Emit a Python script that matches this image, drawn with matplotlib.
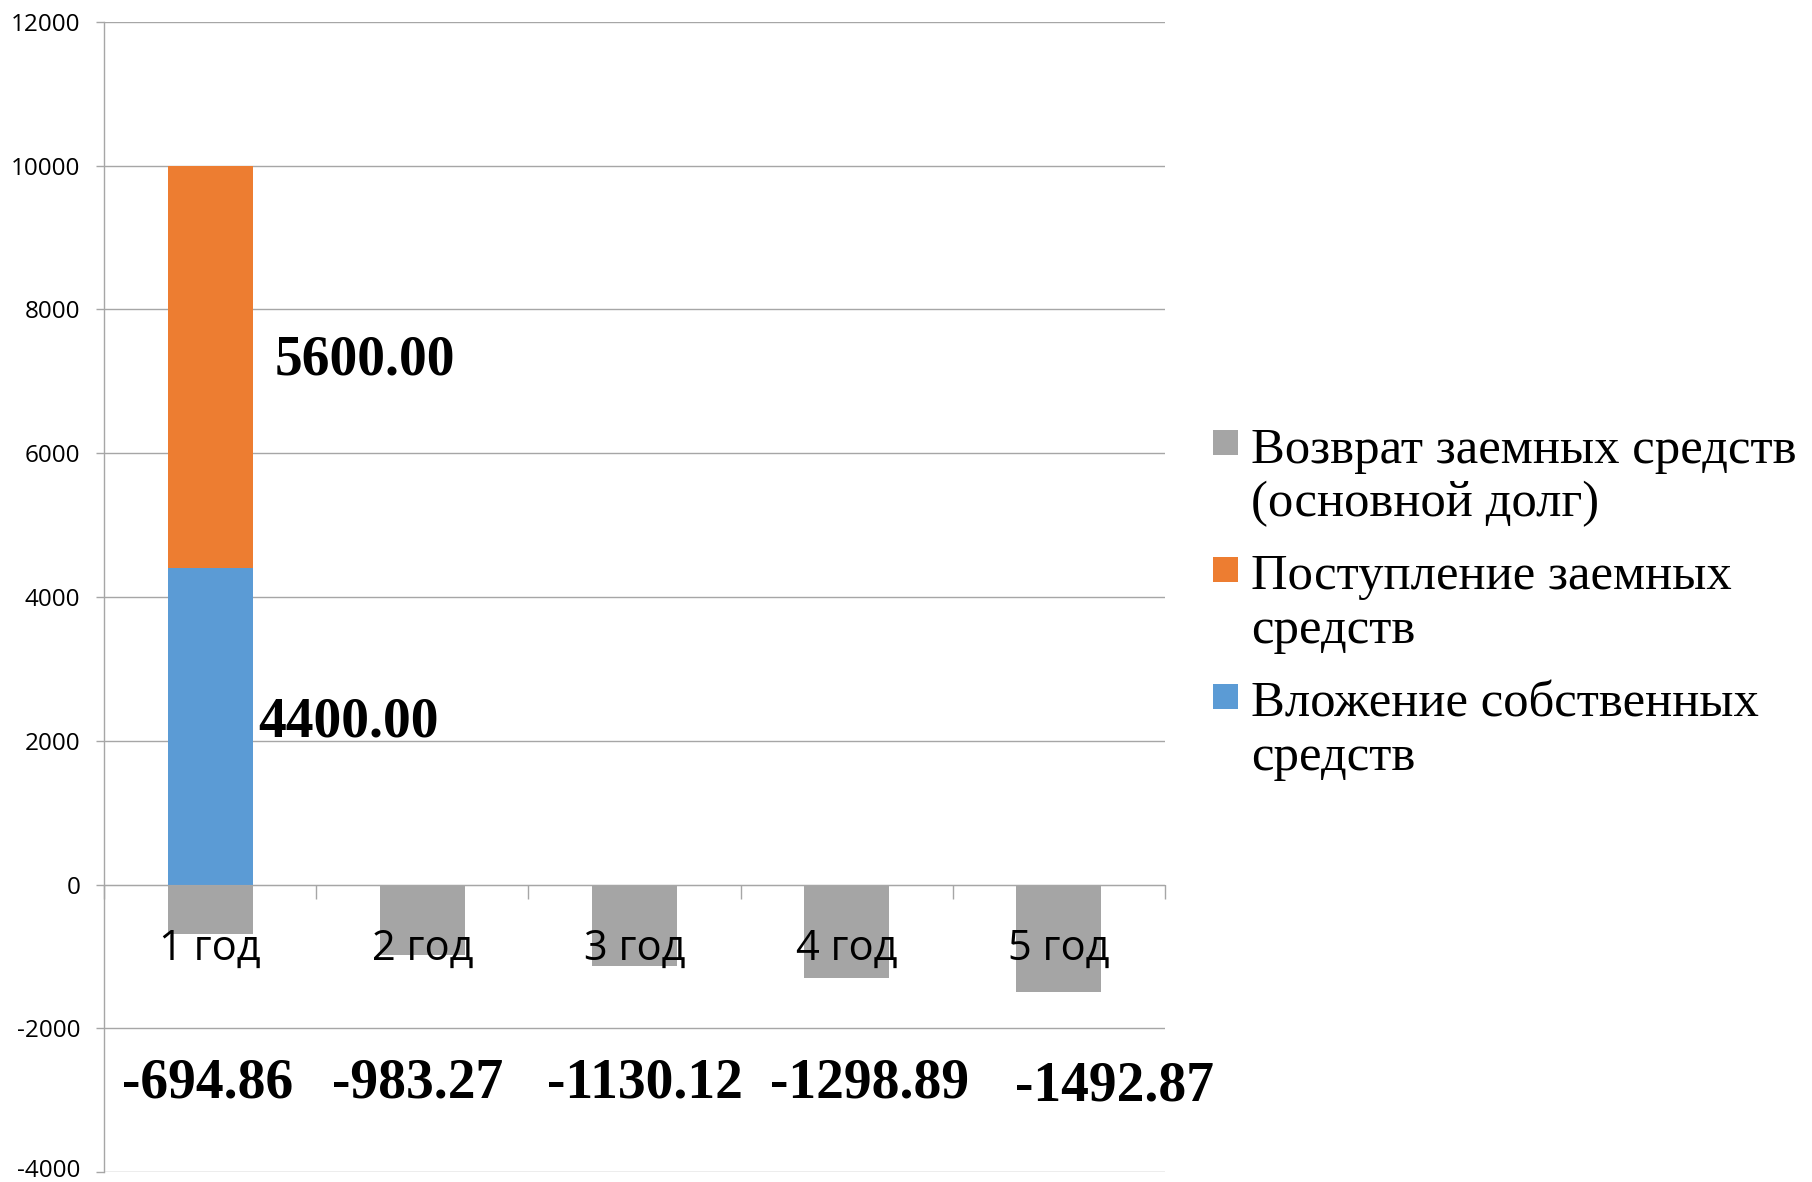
import matplotlib.pyplot as plt
import matplotlib.transforms as mtransforms
from matplotlib.patches import Rectangle

plt.rcParams['axes.unicode_minus'] = False

# data
years = ['1 год', '2 год', '3 год', '4 год', '5 год']
own_funds = [4400.00, 0, 0, 0, 0]
loan_in = [5600.00, 0, 0, 0, 0]
loan_back = [-694.86, -983.27, -1130.12, -1298.89, -1492.87]
series_names = ['Возврат заемных средств\n(основной долг)',
                'Поступление заемных\nсредств',
                'Вложение собственных\nсредств']
y_ticks = [-4000, -2000, 0, 2000, 4000, 6000, 8000, 10000, 12000]

c_grey = '#A5A5A5'
c_orange = '#ED7D31'
c_blue = '#5B9BD5'
c_grid = '#A6A6A6'

fig = plt.figure(figsize=(18.12, 11.82), dpi=100)
ax = fig.add_axes([104 / 1812, 10 / 1182, (1165 - 104) / 1812, (1172 - 22) / 1182])
ax.set_axisbelow(True)

x = list(range(len(years)))
ax.bar(x, own_funds, width=0.4, color=c_blue, linewidth=0)
ax.bar(x, loan_in, width=0.4, bottom=own_funds, color=c_orange, linewidth=0)
ax.bar(x, loan_back, width=0.4, color=c_grey, linewidth=0)

ax.set_xlim(-0.5, len(years) - 0.5)
ax.set_ylim(-4000, 12000)
ax.set_yticks(y_ticks)
ax.yaxis.grid(True, color=c_grid, linewidth=1.0)
ax.tick_params(axis='y', length=6, width=1.0, color=c_grid, pad=11, labelsize=17.5)
ylabels = ax.get_yticklabels()
for lab in ylabels:
    lab.set_fontfamily('Open Sans')
# keep the lowest label inside the picture
ylabels[0].set_transform(ylabels[0].get_transform() +
                         mtransforms.ScaledTranslation(0, 4 / 100, fig.dpi_scale_trans))

# category boundaries on the zero line
ax.set_xticks([i - 0.5 for i in range(len(years) + 1)])
ax.set_xticklabels([])
ax.spines['bottom'].set_position(('data', 0))
ax.spines['bottom'].set_color(c_grid)
ax.tick_params(axis='x', length=10, width=1.0, color=c_grid, direction='out')
ax.spines['left'].set_color(c_grid)
ax.spines['left'].set_linewidth(1.0)
ax.spines['top'].set_visible(False)
ax.spines['right'].set_visible(False)

for i, name in enumerate(years):
    ax.annotate(name, xy=(i, 0), xytext=(0, -31), textcoords='offset points',
                ha='center', va='top', fontsize=30, family='Open Sans', zorder=5)

# data labels (positions dragged by hand in the original)
lab_font = dict(fontsize=40, family='Liberation Serif', fontweight='bold',
                ha='center', va='center', zorder=5)
ax.text(0.73, 7290, '%.2f' % loan_in[0], **lab_font)
ax.text(0.65, 2250, '%.2f' % own_funds[0], **lab_font)
neg_dx = [-0.01, -0.02, 0.05, 0.11, 0.26]
neg_y = [-2770, -2770, -2770, -2770, -2810]
for i, v in enumerate(loan_back):
    ax.text(i + neg_dx[i], neg_y[i], '%.2f' % v, **lab_font)

# legend drawn by hand so the square sits on the first line
W, H = 1812.0, 1182.0
colors = [c_grey, c_orange, c_blue]
for k, (name, col) in enumerate(zip(series_names, colors)):
    top = 430 + k * 127
    fig.patches.append(Rectangle((1213 / W, 1 - (top + 25) / H), 25 / W, 25 / H,
                                 transform=fig.transFigure, color=col, linewidth=0))
    fig.text(1251 / W, 1 - (top - 3) / H, name, ha='left', va='top',
             fontsize=36.5, family='Liberation Serif', linespacing=1.2)

fig.savefig('out.png', dpi=100)
